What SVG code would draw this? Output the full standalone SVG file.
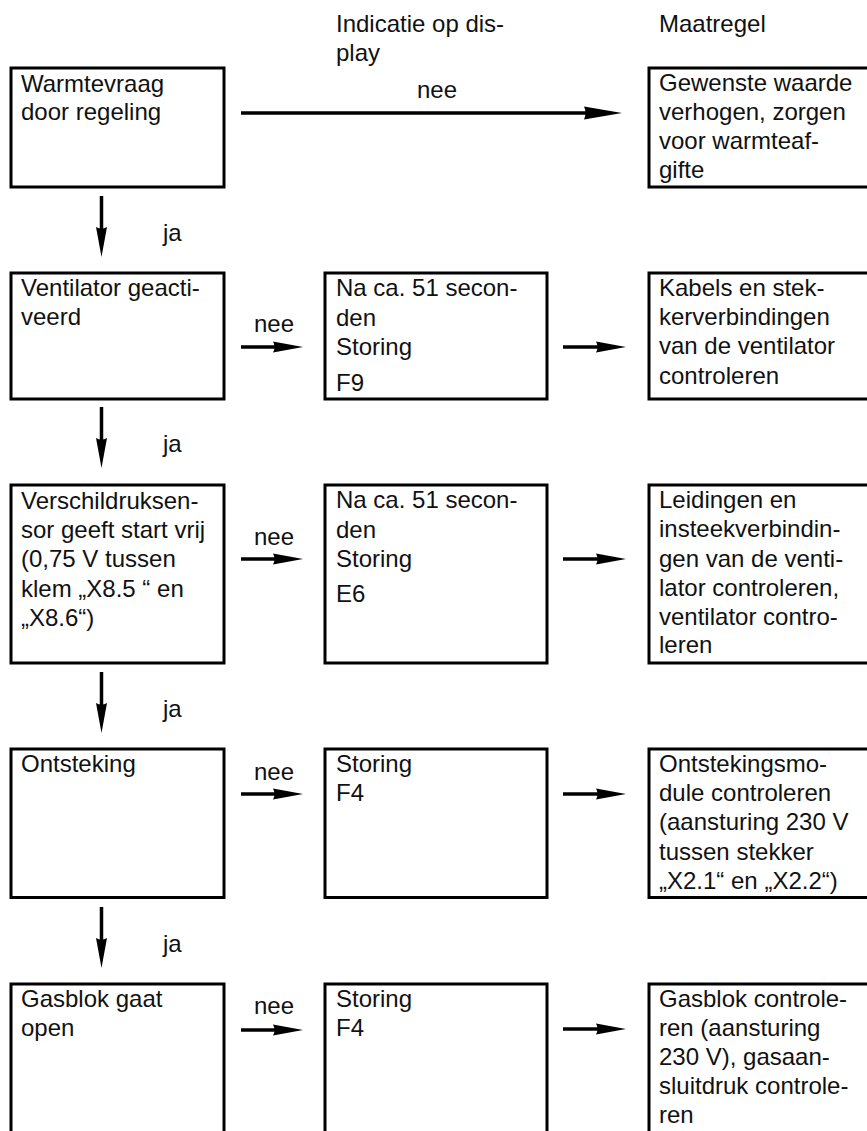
<svg xmlns="http://www.w3.org/2000/svg" width="867" height="1131" viewBox="0 0 867 1131">
<style>
  text { font-family: "Liberation Sans", Arial, sans-serif; font-size: 24px; fill: #111; }
  .box { fill: #fff; stroke: #000; stroke-width: 3; }
  .conn { stroke: #000; stroke-width: 3.5; fill: none; }
</style>
<defs>
  <marker id="ah" markerUnits="userSpaceOnUse" markerWidth="30" markerHeight="12" refX="2" refY="6" orient="auto" overflow="visible">
    <path d="M0,0.5 L30,6 L0,11.5 Q3,6 0,0.5 z" fill="#000"/>
  </marker>
  <marker id="ahl" markerUnits="userSpaceOnUse" markerWidth="38" markerHeight="14" refX="2" refY="7" orient="auto" overflow="visible">
    <path d="M0,0.5 L38,7 L0,13.5 Q3,7 0,0.5 z" fill="#000"/>
  </marker>
</defs>

<g id="headers">
  <text x="336" y="32">Indicatie op dis-</text>
  <text x="336" y="61">play</text>
  <text x="659" y="32">Maatregel</text>
</g>

<g id="connectors">
  <!-- row 1 long arrow -->
  <line class="conn" x1="241" y1="113" x2="586" y2="113" marker-end="url(#ahl)"/>
  <text x="437" y="98" text-anchor="middle">nee</text>
  <!-- vertical ja arrows -->
  <line class="conn" x1="101.5" y1="196" x2="101.5" y2="229" marker-end="url(#ah)"/>
  <text x="163" y="241">ja</text>
  <line class="conn" x1="101.5" y1="407" x2="101.5" y2="440" marker-end="url(#ah)"/>
  <text x="163" y="452">ja</text>
  <line class="conn" x1="101.5" y1="672" x2="101.5" y2="705" marker-end="url(#ah)"/>
  <text x="163" y="717">ja</text>
  <line class="conn" x1="101.5" y1="907" x2="101.5" y2="940" marker-end="url(#ah)"/>
  <text x="163" y="952">ja</text>
  <!-- row 2 -->
  <line class="conn" x1="241" y1="347" x2="275" y2="347" marker-end="url(#ah)"/>
  <text x="254" y="332">nee</text>
  <line class="conn" x1="563" y1="347" x2="598" y2="347" marker-end="url(#ah)"/>
  <!-- row 3 -->
  <line class="conn" x1="241" y1="559" x2="275" y2="559" marker-end="url(#ah)"/>
  <text x="254" y="545">nee</text>
  <line class="conn" x1="563" y1="559" x2="598" y2="559" marker-end="url(#ah)"/>
  <!-- row 4 -->
  <line class="conn" x1="241" y1="794" x2="275" y2="794" marker-end="url(#ah)"/>
  <text x="254" y="780">nee</text>
  <line class="conn" x1="563" y1="794" x2="598" y2="794" marker-end="url(#ah)"/>
  <!-- row 5 -->
  <line class="conn" x1="241" y1="1030" x2="275" y2="1030" marker-end="url(#ah)"/>
  <text x="254" y="1014">nee</text>
  <line class="conn" x1="563" y1="1029" x2="598" y2="1029" marker-end="url(#ah)"/>
</g>

<g id="n-warmtevraag">
  <rect class="box" x="11" y="68" width="213" height="119"/>
  <text x="21" y="91.5">Warmtevraag</text>
  <text x="21" y="120">door regeling</text>
</g>
<g id="n-gewenste">
  <rect class="box" x="649" y="68" width="222" height="119"/>
  <text x="659" y="91">Gewenste waarde</text>
  <text x="659" y="120">verhogen, zorgen</text>
  <text x="659" y="149">voor warmteaf-</text>
  <text x="659" y="178">gifte</text>
</g>

<g id="n-ventilator">
  <rect class="box" x="11" y="273" width="213" height="126"/>
  <text x="21" y="295.5">Ventilator geacti-</text>
  <text x="21" y="325">veerd</text>
</g>
<g id="n-f9">
  <rect class="box" x="325" y="273" width="222" height="126"/>
  <text x="336" y="295.5">Na ca. 51 secon-</text>
  <text x="336" y="325.5">den</text>
  <text x="336" y="355">Storing</text>
  <text x="336" y="391">F9</text>
</g>
<g id="n-kabels">
  <rect class="box" x="649" y="273" width="222" height="126"/>
  <text x="659" y="295.5">Kabels en stek-</text>
  <text x="659" y="325">kerverbindingen</text>
  <text x="659" y="354">van de ventilator</text>
  <text x="659" y="383.5">controleren</text>
</g>

<g id="n-verschildruk">
  <rect class="box" x="11" y="485" width="213" height="178"/>
  <text x="21" y="509">Verschildruksen-</text>
  <text x="21" y="538">sor geeft start vrij</text>
  <text x="21" y="567">(0,75 V tussen</text>
  <text x="21" y="596.5">klem „X8.5 “ en</text>
  <text x="21" y="625.5">„X8.6“)</text>
</g>
<g id="n-e6">
  <rect class="box" x="325" y="485" width="222" height="178"/>
  <text x="336" y="507.5">Na ca. 51 secon-</text>
  <text x="336" y="537.5">den</text>
  <text x="336" y="566.5">Storing</text>
  <text x="336" y="602">E6</text>
</g>
<g id="n-leidingen">
  <rect class="box" x="649" y="485" width="222" height="178"/>
  <text x="659" y="507.5">Leidingen en</text>
  <text x="659" y="537">insteekverbindin-</text>
  <text x="659" y="566.5">gen van de venti-</text>
  <text x="659" y="595.5">lator controleren,</text>
  <text x="659" y="625">ventilator contro-</text>
  <text x="659" y="653">leren</text>
</g>

<g id="n-ontsteking">
  <rect class="box" x="11" y="749" width="213" height="148.5"/>
  <text x="21" y="771.5">Ontsteking</text>
</g>
<g id="n-f4a">
  <rect class="box" x="325" y="749" width="222" height="148.5"/>
  <text x="336" y="771.5">Storing</text>
  <text x="336" y="800.5">F4</text>
</g>
<g id="n-ontstekingsmodule">
  <rect class="box" x="649" y="749" width="222" height="148.5"/>
  <text x="659" y="771.5">Ontstekingsmo-</text>
  <text x="659" y="801">dule controleren</text>
  <text x="659" y="830">(aansturing 230 V</text>
  <text x="659" y="859.5">tussen stekker</text>
  <text x="659" y="888.5">„X2.1“ en „X2.2“)</text>
</g>

<g id="n-gasblok">
  <rect class="box" x="11" y="984" width="213" height="160"/>
  <text x="21" y="1007">Gasblok gaat</text>
  <text x="21" y="1036">open</text>
</g>
<g id="n-f4b">
  <rect class="box" x="325" y="984" width="222" height="160"/>
  <text x="336" y="1007">Storing</text>
  <text x="336" y="1036">F4</text>
</g>
<g id="n-gasblokcontrole">
  <rect class="box" x="649" y="984" width="222" height="160"/>
  <text x="659" y="1007">Gasblok controle-</text>
  <text x="659" y="1036">ren (aansturing</text>
  <text x="659" y="1065">230 V), gasaan-</text>
  <text x="659" y="1094">sluitdruk controle-</text>
  <text x="659" y="1123">ren</text>
</g>
</svg>
